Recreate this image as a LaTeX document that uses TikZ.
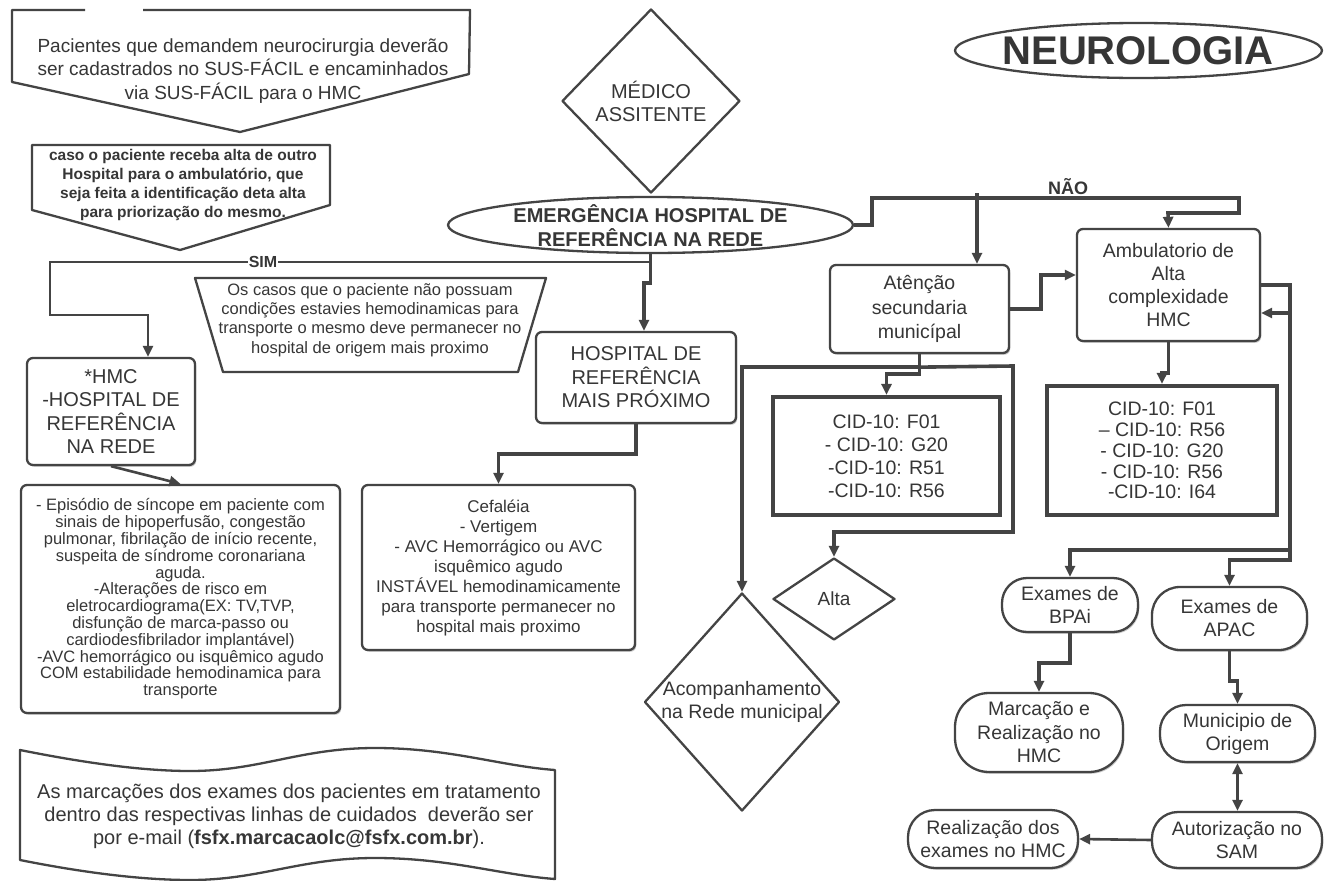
\documentclass[tikz,border=0pt]{standalone}
\usepackage{fontspec}
\setmainfont{Liberation Sans}
\usetikzlibrary{shapes.geometric,arrows.meta,calc,shadows}
\definecolor{ink}{HTML}{444444}
\definecolor{txt}{HTML}{363636}
\newcommand{\fs}[2]{\fontsize{#1}{#2}\selectfont}

\begin{document}
\begin{tikzpicture}[x=1pt,y=-1pt,
  every node/.style={text=txt,align=center},
  conn/.style={draw=ink,line width=3.6pt},
  thinconn/.style={draw=ink,line width=2.6pt},
  tip/.style={-{Triangle[length=11pt,width=10pt]}},
  dtip/.style={{Triangle[length=11pt,width=10pt]}-{Triangle[length=11pt,width=10pt]}},
  shade/.style={drop shadow={shadow xshift=1.3pt,shadow yshift=-1.8pt,opacity=0.2,fill=black}},
  outline/.style={draw=ink,line width=2.3pt,line join=round},
  rbox/.style={outline,fill=white,rounded corners=6pt,inner sep=0pt,shade},
  cidbox/.style={draw=ink,line width=4.2pt,fill=white,inner sep=0pt,shade},
  stad/.style={outline,fill=white,inner sep=0pt,shade},
  diam/.style={outline,diamond,fill=white,inner sep=0pt},
  oval/.style={outline,ellipse,fill=white,inner sep=0pt},
]
\useasboundingbox (0,0) rectangle (1334,881);
\fill[white] (0,0) rectangle (1334,881);

% ---- notes at the top left (off-page connector shapes) ----
\draw[outline] (85,10) -- (12,10) -- (12,82) -- (240,132) -- (469,74) -- (470,10) -- (143,10);
\node[font={\fs{19}{23.5}}] (neurocT) at (243,71)
  {Pacientes que demandem neurocirurgia deverão\\ser cadastrados no SUS-FÁCIL e encaminhados\\via SUS-FÁCIL para o HMC};
\draw[outline] (32,145) -- (330,145) -- (330,205) -- (180,250) -- (32,210) -- cycle;
\node[font={\bfseries\fs{15.5}{19.3}}] (altaOutT) at (183,185)
  {caso o paciente receba alta de outro\\Hospital para o ambulatório, que\\seja feita a identificação deta alta\\para priorização do mesmo.};

% ---- title ----
\node[oval,minimum width=367pt,minimum height=55pt] (neuro) at (1138.5,50.5) {};
\node[font={\bfseries\fs{40}{42}}] (neuroT) at (1138,51) {NEUROLOGIA};

% ---- entry point ----
\node[diam,minimum width=178pt,minimum height=184pt,font={\fs{20}{23}}] (medico) at (651,101) {MÉDICO\\ASSITENTE};
\node[oval,minimum width=405pt,minimum height=56pt] (emerg) at (650.5,225) {};
\node[font={\bfseries\fs{20}{24}}] (emergT) at (650.5,226) {EMERGÊNCIA HOSPITAL DE\\REFERÊNCIA NA REDE};

% ---- SIM branch ----
\draw[outline] (195,278) -- (546,278) -- (518,372) -- (223,372) -- cycle;
\node[font={\fs{16.5}{19.4}}] (trapT) at (370,320)
  {Os casos que o paciente não possuam\\condições estavies hemodinamicas para\\transporte o mesmo deve permanecer no\\hospital de origem mais proximo};
\node[rbox,minimum width=168pt,minimum height=107pt,font={\fs{20}{23.3}}] (hmc) at (111,411.5)
  {*HMC\\-HOSPITAL DE\\REFERÊNCIA\\NA REDE};
\node[rbox,minimum width=319pt,minimum height=228pt,font={\fs{16.5}{16.8}}] (hmcList) at (180.5,599)
  {- Episódio de síncope em paciente com\\sinais de hipoperfusão, congestão\\pulmonar, fibrilação de início recente,\\suspeita de síndrome coronariana\\aguda.\\-Alterações de risco em\\eletrocardiograma(EX: TV,TVP,\\disfunção de marca-passo ou\\cardiodesfibrilador implantável)\\-AVC hemorrágico ou isquêmico agudo\\COM estabilidade hemodinamica para\\transporte};
\node[rbox,minimum width=200pt,minimum height=91pt,font={\fs{20}{23.5}}] (hospRef) at (636,377.5)
  {HOSPITAL DE\\REFERÊNCIA\\MAIS PRÓXIMO};
\node[rbox,minimum width=273pt,minimum height=165pt,font={\fs{17}{20}}] (cefa) at (498.5,567.5)
  {Cefaléia\\- Vertigem\\- AVC Hemorrágico ou AVC\\isquêmico agudo\\INSTÁVEL hemodinamicamente\\para transporte permanecer no\\hospital mais proximo};

% ---- NÃO branch ----
\node[rbox,minimum width=179pt,minimum height=88pt,font={\fs{19.5}{24.5}}] (aten) at (919.5,309)
  {Atênção\\secundaria\\municípal};
\node[rbox,minimum width=183pt,minimum height=112pt,font={\fs{19.5}{23.3}}] (amb) at (1168.5,285)
  {Ambulatorio de\\Alta\\complexidade\\HMC};
\node[cidbox,minimum width=227pt,minimum height=118pt,font={\fs{19.5}{23}}] (cidL) at (886.5,456)
  {CID-10: F01\\- CID-10: G20\\-CID-10: R51\\-CID-10: R56};
\node[cidbox,minimum width=230pt,minimum height=129pt,font={\fs{19.5}{20.8}}] (cidR) at (1162,450.5)
  {CID-10: F01\\– CID-10: R56\\- CID-10: G20\\- CID-10: R56\\-CID-10: I64};
\node[diam,minimum width=122pt,minimum height=82pt,font={\fs{19}{23}}] (alta) at (834,599) {Alta};
\node[diam,minimum width=195pt,minimum height=218pt] (acomp) at (742,702) {};
\node[font={\fs{19.5}{23}}] (acompT) at (742,702) {Acompanhamento\\na Rede municipal};

% ---- exams ----
\node[stad,rounded corners=25pt,minimum width=136pt,minimum height=54pt,font={\fs{19.5}{23}}] (bpai) at (1070,605) {Exames de\\BPAi};
\node[stad,rounded corners=28pt,minimum width=155pt,minimum height=63pt,font={\fs{19.5}{23}}] (apac) at (1229.5,618.5) {Exames de\\APAC};
\node[stad,rounded corners=34pt,minimum width=168pt,minimum height=79pt,font={\fs{19.5}{23.5}}] (marc) at (1039,732.5) {Marcação e\\Realização no\\HMC};
\node[stad,rounded corners=26pt,minimum width=155pt,minimum height=57pt,font={\fs{19.5}{23}}] (muni) at (1237.5,733.5) {Municipio de\\Origem};
\node[stad,rounded corners=26pt,minimum width=170pt,minimum height=56pt,font={\fs{19.5}{23}}] (auto) at (1237,840) {Autorização no\\SAM};
\node[stad,rounded corners=27pt,minimum width=170pt,minimum height=58pt,font={\fs{19.5}{23}}] (real) at (993,839) {Realização dos\\exames no HMC};

% ---- note at the bottom left (tape shape) ----
\draw[outline] (20,750) .. controls (80,762) and (140,771) .. (190,771)
  .. controls (260,771) and (300,748) .. (375,748)
  .. controls (450,748) and (500,766) .. (555,770) -- (555,879)
  .. controls (500,875) and (450,858) .. (375,858)
  .. controls (300,858) and (260,880) .. (190,880)
  .. controls (140,880) and (80,872) .. (20,860) -- cycle;
\node[font={\fs{20}{23}}] (emailT) at (289,816)
  {As marcações dos exames dos pacientes em tratamento\\dentro das respectivas linhas de cuidados\ \ deverão ser\\por e-mail (\textbf{fsfx.marcacaolc@fsfx.com.br}).};

% ---- connectors: SIM side ----
\coordinate (sJoin) at (emerg.south |- 0,262);
\coordinate (sL) at (148,315);
\coordinate (sR) at (644,283);
\draw[thinconn,tip] (sJoin) -- (50,262) |- (sL) -- (sL |- hmc.north);
\draw[conn,tip] (emerg.south) -- (sJoin) -- (sJoin |- sR) -- (sR) -- (sR |- hospRef.north);
\node[font={\bfseries\fs{16}{18}},fill=white,inner xsep=1pt,inner ysep=0pt] (sim) at (263,262) {SIM};
\draw[thinconn,tip] (hmc.south) -- (hmcList.north);
\draw[conn,tip] (hospRef.south) -- ++(0,30) -| (cefa.north);

% ---- connectors: NÃO side ----
\draw[conn,tip] (emerg.east) -- (872,225) |- (1239,198) |- (1168,213) -- (amb.north);
\node[font={\bfseries\fs{18}{20}}] (nao) at (1068,187) {NÃO};
\coordinate (naoTap) at (977,193);
\draw[conn,tip] (naoTap) -- (naoTap |- aten.north);
\coordinate (aa) at (1041,275);
\draw[conn,tip] (aten.east) -| (aa) -- (aa -| amb.west);
\draw[conn,tip] (aten.south) -- ++(0,20) -| (cidL.north);
\coordinate (lp) at ($(aten.south)+(0,13)$);
\coordinate (lr) at (1013,366);
\draw[conn,tip] (lp) -| (acomp.north);
\draw[conn,tip] (lp) -- (lr) -- (1013,532) -| (alta.north);
\draw[conn,tip] (amb.south) -- ++(0,31) -| (cidR.north);

% ---- connectors: exams ----
\coordinate (rt) at (1290,285);
\coordinate (rb) at (1290,313);
\coordinate (rBp) at (1290,550);
\coordinate (rAp) at (1290,560);
\draw[conn,tip] (amb.east |- rt) -- (rt) -- (rAp) -| (apac.north);
\draw[conn,tip] (rBp) -| (bpai.north);
\draw[conn,tip] (rb) -- (rb -| amb.east);
\draw[conn,tip] (bpai.south) -- ++(0,30) -| (marc.north);
\draw[conn,tip] (apac.south) -- ++(0,30) -| (muni.north);
\draw[conn,dtip] (muni.south) -- (muni.south |- auto.north);
\draw[thinconn,tip] (auto.west) -- (real.east);
\end{tikzpicture}
\end{document}
